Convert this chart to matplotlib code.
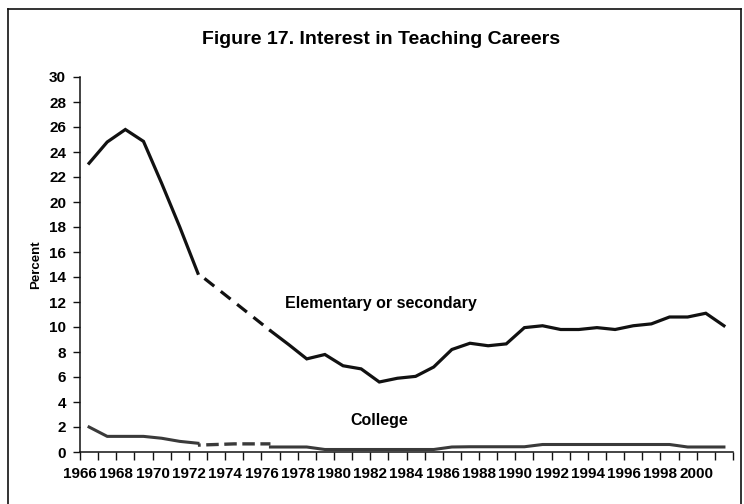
import matplotlib
matplotlib.use("Agg")
import matplotlib.pyplot as plt
from matplotlib.lines import Line2D

plt.rcParams['font.family'] = ['Liberation Sans', 'DejaVu Sans']
plt.rcParams['lines.scale_dashes'] = False

# Elementary or secondary (percent)
elem_years_a = [1966, 1967, 1968, 1969, 1970, 1971, 1972]
elem_vals_a = [23.1, 24.8, 25.8, 24.85, 21.5, 18.0, 14.3]
elem_years_b = [1972, 1976]
elem_vals_b = [14.3, 9.7]
elem_years_c = list(range(1976, 2002))
elem_vals_c = [9.7, 8.6, 7.45, 7.8, 6.9, 6.65, 5.6, 5.9, 6.05, 6.8,
               8.2, 8.7, 8.5, 8.65, 9.95, 10.1, 9.8, 9.8, 9.95, 9.8,
               10.1, 10.25, 10.8, 10.8, 11.1, 10.1]

# College (percent)
col_years_a = [1966, 1967, 1968, 1969, 1970, 1971, 1972]
col_vals_a = [2.0, 1.25, 1.25, 1.25, 1.1, 0.85, 0.7]
col_years_b = [1972, 1973, 1974, 1975, 1976]
col_vals_b = [0.55, 0.6, 0.65, 0.65, 0.65]
col_years_c = list(range(1976, 2002))
col_vals_c = [0.4, 0.4, 0.4, 0.2, 0.2, 0.2, 0.2, 0.2, 0.2, 0.2,
              0.4, 0.42, 0.42, 0.42, 0.42, 0.6, 0.6, 0.6, 0.6, 0.6,
              0.6, 0.6, 0.6, 0.4, 0.4, 0.4]

year_labels = [str(y) for y in range(1966, 2001, 2)]
y_ticks = list(range(0, 31, 2))

W, H = 744, 504
fig = plt.figure(figsize=(W / 100, H / 100), dpi=100)
ax = fig.add_axes([80 / W, 1 - 452 / H, 653 / W, 375 / H])

blk = '#111111'
gry = '#3a3a3a'
ax.plot(elem_years_a, elem_vals_a, color=blk, lw=2.3, solid_joinstyle='miter')
ax.plot(elem_years_b, elem_vals_b, color=blk, lw=2.3, linestyle=(9, (9, 6)))
ax.plot(elem_years_c, elem_vals_c, color=blk, lw=2.3, solid_joinstyle='miter')

ax.plot(col_years_a, col_vals_a, color=gry, lw=2.2)
ax.plot(col_years_b, col_vals_b, color=gry, lw=2.4, linestyle=(7, (9, 4)))
ax.plot(col_years_c, col_vals_c, color=gry, lw=2.2)

ax.set_xlim(1965.5, 2001.5)
ax.set_ylim(0, 30)

# x ticks: marks at every category boundary, labels every 2 years
n = 2001 - 1966 + 1
boundaries = [1965.5 + k for k in range(n + 1)]
ax.set_xticks(boundaries)
lab_map = {1965.5 + 2 * i: t for i, t in enumerate(year_labels)}
ax.set_xticklabels([lab_map.get(b, '') for b in boundaries])
ax.tick_params(axis='x', direction='out', length=6, width=1, pad=5,
               labelsize=11, color=blk)
ax.set_yticks(y_ticks)
ax.set_yticklabels([str(v) for v in y_ticks])
ax.tick_params(axis='y', direction='out', length=5, width=1, pad=5,
               labelsize=11, color=blk)
for lab in ax.get_xticklabels() + ax.get_yticklabels():
    lab.set_fontweight('bold')

for s in ['top', 'right']:
    ax.spines[s].set_visible(False)
for s in ['left', 'bottom']:
    ax.spines[s].set_linewidth(1.1)
    ax.spines[s].set_color(blk)

ax.set_ylabel('Percent', fontsize=9.5, fontweight='bold')
ax.yaxis.set_label_coords(-0.058, 0.5)

ax.text(1982.1, 11.9, 'Elementary or secondary', fontsize=11.5,
        fontweight='bold', ha='center', va='center')
ax.text(1982.0, 2.5, 'College', fontsize=11.5, fontweight='bold',
        ha='center', va='center')

fig.text(381 / W, 1 - 40 / H, 'Figure 17. Interest in Teaching Careers',
         fontsize=14, fontweight='bold', ha='center', va='center')

# figure frame
fx = lambda px: px / W
fy = lambda py: 1 - py / H
for xs, ys in [([fx(8), fx(8)], [fy(9), 0]),
               ([fx(8), fx(741)], [fy(9), fy(9)]),
               ([fx(741), fx(741)], [fy(9), 0])]:
    fig.add_artist(Line2D(xs, ys, color=blk, lw=1.2, transform=fig.transFigure))

fig.savefig('out.png', dpi=100)
